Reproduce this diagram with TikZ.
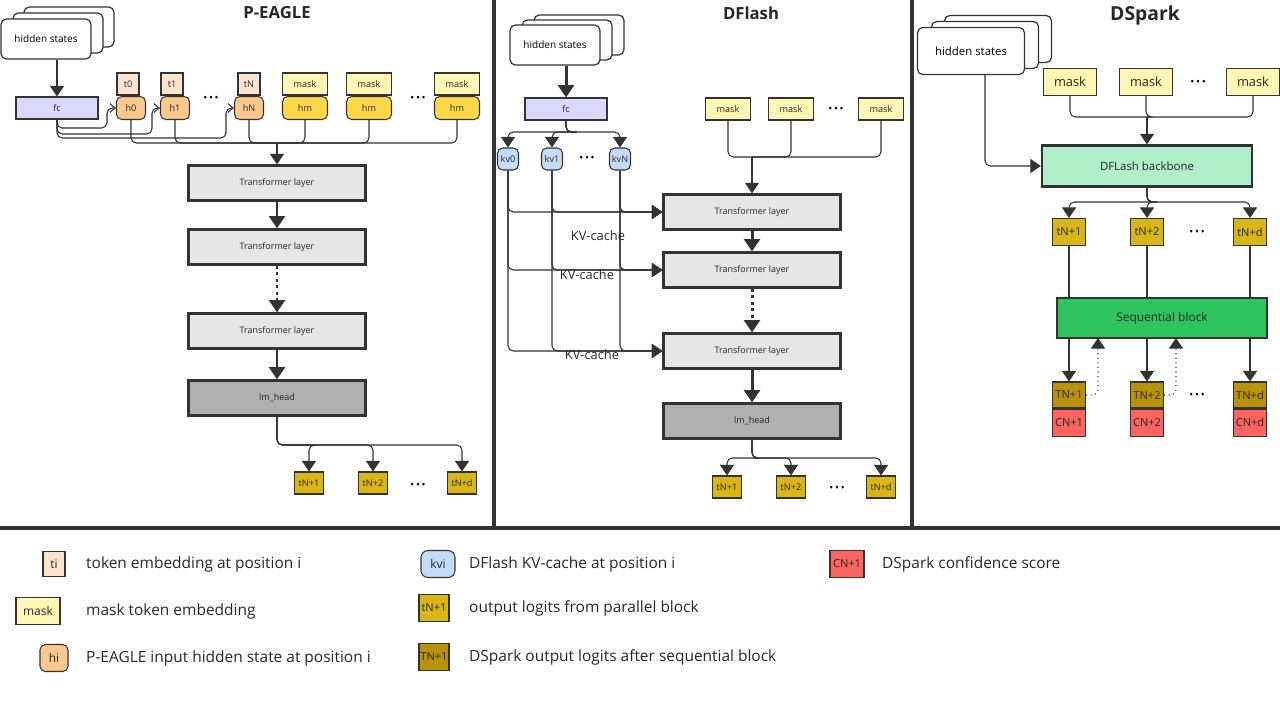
\documentclass[tikz,border=0pt]{standalone}
\usepackage{fontspec}
\setmainfont{Open Sans}
\usetikzlibrary{arrows.meta,positioning}
\newcommand\fs[1]{\fontsize{#1}{#1}\selectfont}
\newcommand\dotrow{\textbullet\hspace{1pt}\textbullet\hspace{1pt}\textbullet}
\definecolor{lnc}{HTML}{333333}
\definecolor{tokc}{HTML}{FDE4CF}
\definecolor{hidc}{HTML}{FBC98E}
\definecolor{maskc}{HTML}{FFF6B3}
\definecolor{hmc}{HTML}{FDD94A}
\definecolor{fcc}{HTML}{DCD8FB}
\definecolor{kvc}{HTML}{C5DCF9}
\definecolor{layc}{HTML}{E6E6E6}
\definecolor{headc}{HTML}{B0B0B0}
\definecolor{outc}{HTML}{DAB516}
\definecolor{seqoc}{HTML}{B8930A}
\definecolor{confc}{HTML}{FB6460}
\definecolor{bbc}{HTML}{AFF0C9}
\definecolor{seqc}{HTML}{2EC55E}
\tikzset{
  box/.style={draw=lnc,line width=0.6pt,inner sep=0pt,font=\fs{5.2},text=black!85},
  tok/.style={box,fill=tokc,minimum width=0.44cm,minimum height=0.44cm},
  hid/.style={box,fill=hidc,rounded corners=3pt,minimum width=0.58cm,minimum height=0.46cm},
  msk/.style={box,fill=maskc,minimum width=0.9cm,minimum height=0.44cm},
  hm/.style={box,fill=hmc,rounded corners=3pt,minimum width=0.9cm,minimum height=0.46cm},
  kv/.style={box,fill=kvc,rounded corners=3pt,minimum width=0.42cm,minimum height=0.44cm},
  fcn/.style={box,fill=fcc,minimum width=1.64cm,minimum height=0.44cm},
  logit/.style={box,fill=outc,minimum width=0.58cm,minimum height=0.44cm},
  layer/.style={draw=lnc,line width=1.3pt,fill=layc,inner sep=0pt,minimum width=3.54cm,minimum height=0.7cm,font=\fs{5.1},text=black!85},
  lmhead/.style={layer,fill=headc},
  hs/.style={draw=lnc,line width=0.7pt,fill=white,rounded corners=3pt,minimum width=1.8cm,minimum height=0.8cm,inner sep=0pt,font=\fs{5.7}},
  title/.style={font=\fs{9.5}\bfseries,text=black!85},
  dots/.style={font=\fs{6}},
  link/.style={draw=lnc,line width=0.6pt,rounded corners=3pt},
  arr/.style={link,-{Triangle[length=4pt,width=5pt]}},
  bigarr/.style={link,-{Triangle[length=6pt,width=8pt]}},
  heavy/.style={draw=lnc,line width=1.7pt,-{Triangle[length=7pt,width=9pt]}},
  barb/.style={link,-{Straight Barb[length=3pt,width=5pt]}},
  leg/.style={font=\fs{8.8},anchor=west,text=black!85},
  sep/.style={draw=lnc,line width=1.8pt}
}
\begin{document}
\begin{tikzpicture}[x=0.02cm,y=-0.02cm]
\useasboundingbox (0,0) rectangle (1280,720);
% panel frames
\draw[sep] (0,528) -- (1280,528);
\draw[sep] (494,0) -- (494,528);
\draw[sep] (912,0) -- (912,528);

% P-EAGLE
\node[title] at (277,13) {P-EAGLE};
\node[hs] at (69,27) {};
\node[hs] at (58,33) {};
\node[hs] (phs) at (46,39) {hidden states};
\node[fcn] (pfc) at (57,108) {fc};
\node[tok] (pt0) at (128,84) {t0};
\node[hid] (ph0) at (131,108) {h0};
\node[tok] (pt1) at (172,84) {t1};
\node[hid] (ph1) at (175,108) {h1};
\node[tok] (ptN) at (249,84) {tN};
\node[hid] (phN) at (249,108) {hN};
\node[msk] (pm1) at (305,84) {mask};
\node[hm] (phm1) at (305,108) {hm};
\node[msk] (pm2) at (369,84) {mask};
\node[hm] (phm2) at (369,108) {hm};
\node[msk] (pm3) at (457,84) {mask};
\node[hm] (phm3) at (457,108) {hm};
\node[dots] at (211,99) {\dotrow};
\node[dots] at (418,99) {\dotrow};
\draw[bigarr] (phs.south -| pfc.north) -- (pfc.north);
\draw[barb] (pfc.south) |- (107,128) |- (ph0.west);
\draw[barb] (pfc.south) |- (152,134) |- (ph1.west);
\draw[barb] (pfc.south) |- (226,138) |- (phN.west);
\coordinate (pjoin) at (277,143);
\foreach \n in {ph0,ph1,phN,phm1,phm2,phm3}
  \draw[link] (\n.south) |- (pjoin);
\node[layer] (pl1) at (277,183) {Transformer layer};
\node[layer] (pl2) at (277,247) {Transformer layer};
\node[layer] (pl3) at (277,331) {Transformer layer};
\node[lmhead] (phead) at (277,398) {lm\_head};
\draw[bigarr] (pjoin) -- (pl1);
\draw[heavy] (pl1) -- (pl2);
\draw[heavy,dotted] (pl2) -- (pl3);
\draw[heavy] (pl3) -- (phead);
\node[logit] (po1) at (309,483) {tN+1};
\node[logit] (po2) at (373,483) {tN+2};
\node[logit] (pod) at (462,483) {tN+d};
\node[dots] at (418,486) {\dotrow};
\foreach \n in {po1,po2,pod}
  \draw[bigarr] (phead.south) |- (320,445) -| (\n.north);

% DFlash
\node[title] at (751,13) {DFlash};
\node[hs] at (579,35) {};
\node[hs] at (567,40) {};
\node[hs] (dhs) at (555,45) {hidden states};
\node[fcn] (dfc) at (566,109) {fc};
\draw[heavy] (dhs.south -| dfc.north) -- (dfc.north);
\node[kv] (dkv0) at (508,159) {kv0};
\node[kv] (dkv1) at (552,159) {kv1};
\node[kv] (dkvN) at (620,159) {kvN};
\node[dots] at (587,159) {\dotrow};
\foreach \n in {dkv0,dkv1,dkvN}
  \draw[bigarr] (dfc.south) |- (580,132) -| (\n.north);
\node[msk] (dm1) at (728,109) {mask};
\node[msk] (dm2) at (791,109) {mask};
\node[msk] (dm3) at (881,109) {mask};
\node[dots] at (836,110) {\dotrow};
\coordinate (djoin) at (752,157);
\foreach \n in {dm1,dm2,dm3}
  \draw[link] (\n.south) |- (djoin);
\node[layer] (dl1) at (752,212) {Transformer layer};
\node[layer] (dl2) at (752,270) {Transformer layer};
\node[layer] (dl3) at (752,351) {Transformer layer};
\node[lmhead] (dhead) at (752,421) {lm\_head};
\draw[bigarr] (djoin) -- (dl1);
\draw[heavy] (dl1) -- (dl2);
\draw[heavy,dotted] (dl2) -- (dl3);
\draw[heavy] (dl3) -- (dhead);
\foreach \n in {dkv0,dkv1,dkvN}
  \foreach \l in {dl1,dl2,dl3}
    \draw[bigarr] (\n.south) |- (\l.west);
\node[font=\fs{7.3},text=black!85] at (598,236) {KV-cache};
\node[font=\fs{7.3},text=black!85] at (587,275) {KV-cache};
\node[font=\fs{7.3},text=black!85] at (592,355) {KV-cache};
\node[logit] (do1) at (727,487) {tN+1};
\node[logit] (do2) at (791,487) {tN+2};
\node[logit] (dod) at (881,487) {tN+d};
\node[dots] at (837,489) {\dotrow};
\foreach \n in {do1,do2,dod}
  \draw[bigarr] (dhead.south) |- (760,458) -| (\n.north);

% DSpark
\node[title,font=\fs{11}\bfseries] at (1145,15) {DSpark};
\node[hs,minimum width=2.14cm,minimum height=0.94cm] at (998,39) {};
\node[hs,minimum width=2.14cm,minimum height=0.94cm] at (985,45) {};
\node[hs,minimum width=2.14cm,minimum height=0.94cm,font=\fs{6.5}] (shs) at (971,51) {hidden states};
\node[msk,minimum width=1.06cm,minimum height=0.54cm,font=\fs{7.3}] (sm1) at (1070,82) {mask};
\node[msk,minimum width=1.06cm,minimum height=0.54cm,font=\fs{7.3}] (sm2) at (1146,82) {mask};
\node[msk,minimum width=1.06cm,minimum height=0.54cm,font=\fs{7.3}] (sm3) at (1253,82) {mask};
\node[dots] at (1198,83) {\dotrow};
\coordinate (sjoin) at (1147,117);
\foreach \n in {sm1,sm2,sm3}
  \draw[link] (\n.south) |- (sjoin);
\node[layer,fill=bbc,minimum width=4.2cm,minimum height=0.82cm,font=\fs{6.5}] (sbb) at (1147,166) {DFLash backbone};
\draw[bigarr] (sjoin) -- (sbb);
\draw[bigarr] ([xshift=0.28cm]shs.south) |- (sbb.west);
\node[logit,minimum width=0.66cm,minimum height=0.54cm,font=\fs{6.3}] (so1) at (1069,232) {tN+1};
\node[logit,minimum width=0.66cm,minimum height=0.54cm,font=\fs{6.3}] (so2) at (1147,232) {tN+2};
\node[logit,minimum width=0.66cm,minimum height=0.54cm,font=\fs{6.3}] (sod) at (1250,232) {tN+d};
\node[dots] at (1197,233) {\dotrow};
\foreach \n in {so1,so2,sod}
  \draw[bigarr] (sbb.south) |- (1160,202) -| (\n.north);
\node[layer,fill=seqc,minimum width=4.2cm,minimum height=0.8cm,font=\fs{6.8}] (sseq) at (1162,318) {Sequential block};
\foreach \n in {so1,so2,sod}
  \draw[link] (\n.south) -- (\n.south |- sseq.north);
\node[logit,fill=seqoc,minimum width=0.66cm,minimum height=0.52cm,font=\fs{6.3}] (sT1) at (1069,395) {TN+1};
\node[logit,fill=seqoc,minimum width=0.66cm,minimum height=0.52cm,font=\fs{6.3}] (sT2) at (1147,395) {TN+2};
\node[logit,fill=seqoc,minimum width=0.66cm,minimum height=0.52cm,font=\fs{6.3}] (sTd) at (1250,395) {TN+d};
\node[logit,fill=confc,minimum width=0.66cm,minimum height=0.54cm,font=\fs{6.3},below=0pt of sT1] (sC1) {CN+1};
\node[logit,fill=confc,minimum width=0.66cm,minimum height=0.54cm,font=\fs{6.3},below=0pt of sT2] (sC2) {CN+2};
\node[logit,fill=confc,minimum width=0.66cm,minimum height=0.54cm,font=\fs{6.3},below=0pt of sTd] (sCd) {CN+d};
\node[dots] at (1197,396) {\dotrow};
\foreach \n in {sT1,sT2,sTd}
  \draw[bigarr] (\n.north |- sseq.south) -- (\n.north);
\draw[bigarr,dotted] (sT1.east) -| (1098,338);
\draw[bigarr,dotted] (sT2.east) -| (1176,338);

% legend
\node[tok,minimum height=0.5cm,font=\fs{6.8}] (lt) at (54,564) {ti};
\node[leg] at (80,564) {token embedding at position i};
\node[msk,minimum width=0.88cm,minimum height=0.54cm,font=\fs{6.8}] (lm) at (38,611) {mask};
\node[leg] at (80,611) {mask token embedding};
\node[hid,minimum width=0.56cm,minimum height=0.54cm,font=\fs{6.8}] (lh) at (54,658) {hi};
\node[leg] at (80,658) {P-EAGLE input hidden state at position i};
\node[kv,minimum width=0.68cm,minimum height=0.54cm,rounded corners=4pt,font=\fs{6.8}] (lkv) at (438,564) {kvi};
\node[leg] at (463,564) {DFlash KV-cache at position i};
\node[logit,minimum width=0.6cm,minimum height=0.54cm,font=\fs{6.3}] (lo) at (434,608) {tN+1};
\node[leg] at (463,608) {output logits from parallel block};
\node[logit,fill=seqoc,minimum width=0.6cm,minimum height=0.54cm,font=\fs{6.3}] (lT) at (434,657) {TN+1};
\node[leg] at (463,657) {DSpark output logits after sequential block};
\node[logit,fill=confc,minimum width=0.68cm,minimum height=0.54cm,font=\fs{6.3}] (lC) at (847,564) {CN+1};
\node[leg] at (876,564) {DSpark confidence score};
\end{tikzpicture}
\end{document}
